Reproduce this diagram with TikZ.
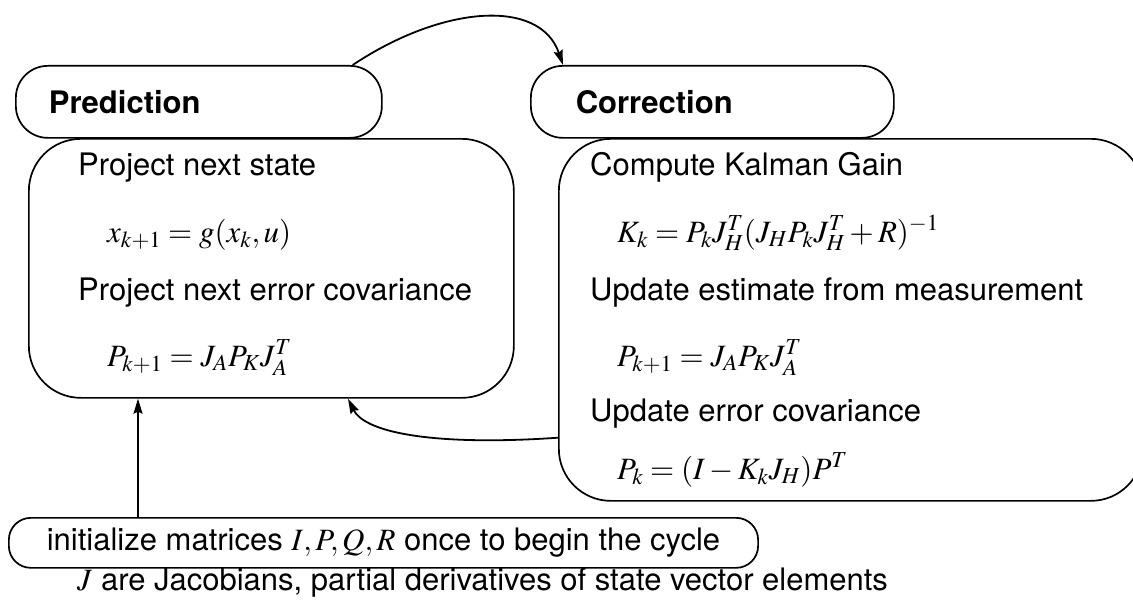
\documentclass[tikz,border=0pt]{standalone}
\usepackage{mathptmx}
\usepackage[no-math]{fontspec}
\setmainfont{TeX Gyre Heros}
\usetikzlibrary{arrows.meta,calc}
\newcommand\diagfont{\fontsize{31}{37}\selectfont}
\tikzset{
  phase/.style={draw, line width=1.7pt, rounded corners=32pt, anchor=north west,
    minimum height=72pt, align=left, font=\diagfont\bfseries},
  stepbody/.style={draw, line width=1.7pt, rounded corners=52pt, anchor=north west},
  line/.style={anchor=base west, inner sep=0pt},
  flow/.style={-{Stealth[length=15pt,width=9pt,inset=2pt]}, line width=1.8pt},
}
\begin{document}
\begin{tikzpicture}[x=1pt, y=-1pt, font=\diagfont]
  \useasboundingbox (0,0) rectangle (1133,602);
  \node[phase, text width=300pt, inner xsep=33pt] (pred) at (15,65) {Prediction};
  \node[phase, text width=273pt, inner xsep=45pt] (corr) at (530,65) {Correction};
  \node[stepbody, minimum width=485pt, minimum height=259pt] (predbody) at (28,138) {};
  \node[stepbody, minimum width=584pt, minimum height=362pt] (corrbody) at (558,138) {};
  % prediction steps
  \node[line] (ps) at (78,175) {Project next state};
  \node[line] (px) at (107,242) {$x_{k+1} = g(x_k,u)$};
  \node[line] (pe) at (78,300) {Project next error covariance};
  \node[line] (pp) at (107,366) {$P_{k+1} = J_A P_K J_A^T$};
  % correction steps
  \node[line] (cg) at (590,175) {Compute Kalman Gain};
  \node[line] (ck) at (617,242) {$K_k = P_k J_H^T (J_H P_k J_H^T + R)^{-1}$};
  \node[line] (cu) at (590,300) {Update estimate from measurement};
  \node[line] (cp) at (617,366) {$P_{k+1} = J_A P_K J_A^T$};
  \node[line] (ce) at (590,421) {Update error covariance};
  \node[line] (cc) at (617,479) {$P_k = (I - K_k J_H) P^T$};
  \node[draw, line width=1.7pt, rounded corners=22pt, anchor=north west, minimum height=50pt,
    inner xsep=38pt] (init) at (8,517)
    {initialize matrices $I,P,Q,R$ once to begin the cycle};
  \node[line] (note) at (77,590) {$J$ are Jacobians, partial derivatives of state vector elements};
  % cycle
  \coordinate (initout) at ($(init.north west)+(130,0)$);
  \draw[flow] ($(pred.north east)+(-30,0)$) .. controls +(90,-60) and +(-23,-67) .. ($(corr.north west)+(33,0)$);
  \draw[flow] ($(corrbody.south west)+(0,-64)$) .. controls +(-115,8) and +(18,36) .. ($(predbody.south west)+(320,0)$);
  \draw[flow, line width=1.3pt] (initout) -- (initout |- predbody.south);
\end{tikzpicture}
\end{document}
